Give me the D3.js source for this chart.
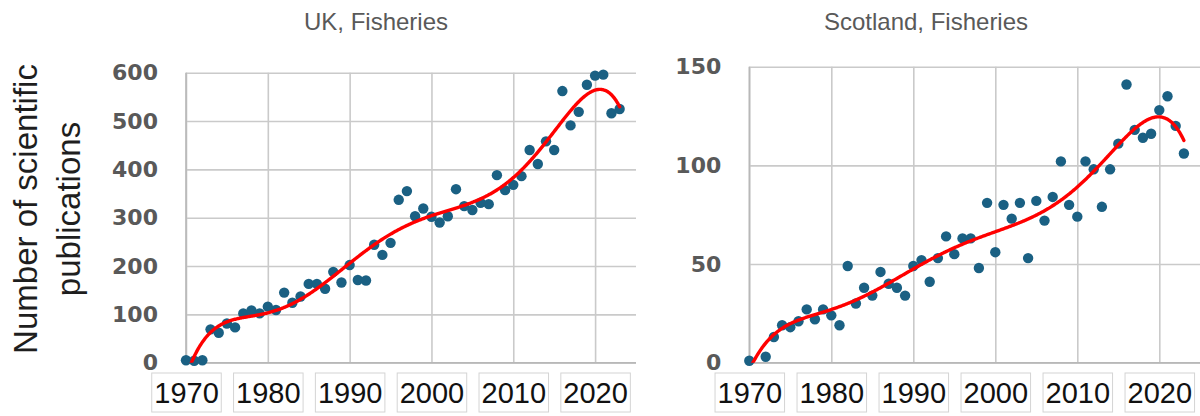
<!DOCTYPE html>
<html>
<head>
<meta charset="utf-8">
<script src="https://cdn.jsdelivr.net/npm/d3@7"></script>
<style>
  html, body { margin: 0; padding: 0; background: #ffffff; }
  svg { display: block; }
</style>
</head>
<body>
<svg id="chart" width="1200" height="416"></svg>
<script>
// Publication counts per year, 1970–2023
const years = d3.range(1970, 2024);

const ukPublications = [
  5, 4, 5, 69, 62, 81, 73, 102, 108, 102,
  116, 109, 145, 124, 137, 163, 163, 153, 188, 166,
  202, 171, 170, 244, 223, 248, 337, 355, 303, 319,
  302, 290, 303, 359, 324, 316, 331, 328, 388, 357,
  368, 386, 440, 411, 458, 440, 562, 491, 519, 575,
  594, 596, 516, 525
];

const scotlandPublications = [
  1, null, 3, 13, 19, 18, 21, 27, 22, 27,
  24, 19, 49, 30, 38, 34, 46, 40, 38, 34,
  49, 52, 41, 53, 64, 55, 63, 63, 48, 81,
  56, 80, 73, 81, 53, 82, 72, 84, 102, 80,
  74, 102, 98, 79, 98, 111, 141, 118, 114, 116,
  128, 135, 120, 106
];

const yearTicks = [1970, 1980, 1990, 2000, 2010, 2020];
const ukValueTicks = [0, 100, 200, 300, 400, 500, 600];
const scotlandValueTicks = [0, 50, 100, 150];
const panelTitles = ["UK, Fisheries", "Scotland, Fisheries"];
const yAxisTitle = ["Number of scientific", "publications"];

const TREND_DEGREE = 6;

// Least-squares polynomial fit (x is centred and scaled for numerical stability)
function polyFit(xs, ys, degree) {
  const cx = d3.mean(xs);
  const sx = (d3.max(xs) - d3.min(xs)) / 2;
  const n = degree + 1;
  const M = Array.from({ length: n }, () => new Array(n).fill(0));
  const b = new Array(n).fill(0);
  xs.forEach((xv, i) => {
    const t = (xv - cx) / sx;
    const pw = [];
    for (let k = 0; k < n; k++) pw.push(Math.pow(t, k));
    for (let r = 0; r < n; r++) {
      b[r] += pw[r] * ys[i];
      for (let c = 0; c < n; c++) M[r][c] += pw[r] * pw[c];
    }
  });
  // Gaussian elimination with partial pivoting
  for (let col = 0; col < n; col++) {
    let piv = col;
    for (let r = col + 1; r < n; r++) if (Math.abs(M[r][col]) > Math.abs(M[piv][col])) piv = r;
    [M[col], M[piv]] = [M[piv], M[col]];
    [b[col], b[piv]] = [b[piv], b[col]];
    for (let r = col + 1; r < n; r++) {
      const f = M[r][col] / M[col][col];
      for (let c = col; c < n; c++) M[r][c] -= f * M[col][c];
      b[r] -= f * b[col];
    }
  }
  const coef = new Array(n).fill(0);
  for (let r = n - 1; r >= 0; r--) {
    let s = b[r];
    for (let c = r + 1; c < n; c++) s -= M[r][c] * coef[c];
    coef[r] = s / M[r][r];
  }
  return xv => {
    const t = (xv - cx) / sx;
    let v = 0;
    for (let k = n - 1; k >= 0; k--) v = v * t + coef[k];
    return v;
  };
}

const svg = d3.select("#chart");
const defs = svg.append("defs");

function drawPanel(opts) {
  const { id, left, right, top, bottom, yMax, values, valueTicks, title, titleX } = opts;
  const x = d3.scaleLinear().domain([1970, 2025]).range([left, right]);
  const y = d3.scaleLinear().domain([0, yMax]).range([bottom, top]);
  const g = svg.append("g");

  // Horizontal gridlines + value labels
  const yAxis = g.append("g")
    .attr("transform", `translate(${left},0)`)
    .call(d3.axisLeft(y).tickValues(valueTicks).tickSize(-(right - left)).tickPadding(28).tickFormat(d3.format("d")))
    .attr("font-family", "'DejaVu Sans', sans-serif")
    .attr("font-size", 22)
    .attr("font-weight", "bold");
  yAxis.select(".domain").remove();
  yAxis.selectAll(".tick line").attr("stroke", "#cacaca").attr("stroke-width", 1.6);
  yAxis.selectAll(".tick text").attr("fill", "#595959");

  // Vertical gridlines + boxed year labels
  const xAxis = g.append("g")
    .attr("transform", `translate(0,${bottom})`)
    .call(d3.axisBottom(x).tickValues(yearTicks).tickSize(-(bottom - top)).tickFormat(d3.format("d")))
    .attr("font-family", "'Liberation Sans', Arial, sans-serif")
    .attr("font-size", 29);
  xAxis.select(".domain").remove();
  xAxis.selectAll(".tick line").attr("stroke", "#cacaca").attr("stroke-width", 1.6);
  xAxis.selectAll(".tick text")
    .attr("fill", "#111111")
    .attr("y", 403 - bottom)
    .attr("dy", 0);
  xAxis.selectAll(".tick").each(function () {
    const tick = d3.select(this);
    const w = tick.select("text").node().getComputedTextLength();
    tick.insert("rect", "text")
      .attr("x", -w / 2 - 2.5)
      .attr("y", 373 - bottom)
      .attr("width", w + 5)
      .attr("height", 39)
      .attr("fill", "#ffffff")
      .attr("stroke", "#d4d4d4")
      .attr("stroke-width", 1);
  });

  // Axis lines
  g.append("line").attr("x1", left).attr("x2", left).attr("y1", top).attr("y2", bottom)
    .attr("stroke", "#b8b8b8").attr("stroke-width", 1.6);
  g.append("line").attr("x1", left).attr("x2", right).attr("y1", bottom).attr("y2", bottom)
    .attr("stroke", "#b8b8b8").attr("stroke-width", 1.6);

  // Data points
  const pts = years.map((yr, i) => ({ yr, v: values[i] })).filter(d => d.v != null);
  g.append("g").selectAll("circle").data(pts).join("circle")
    .attr("cx", d => x(d.yr))
    .attr("cy", d => y(d.v))
    .attr("r", 5.2)
    .attr("fill", "#1a6083");

  // Polynomial trendline, clipped to the plot area
  defs.append("clipPath").attr("id", id)
    .append("rect").attr("x", left).attr("y", top - 20).attr("width", right - left).attr("height", bottom - top + 20);
  const fit = polyFit(pts.map(d => d.yr), pts.map(d => d.v), TREND_DEGREE);
  const x0 = d3.min(pts, d => d.yr), x1 = d3.max(pts, d => d.yr);
  const samples = d3.range(x0, x1 + 0.001, 0.1).map(t => [t, fit(t)]);
  g.append("path")
    .attr("clip-path", `url(#${id})`)
    .attr("d", d3.line().x(d => x(d[0])).y(d => y(d[1]))(samples))
    .attr("fill", "none")
    .attr("stroke", "#ff0000")
    .attr("stroke-width", 3.4)
    .attr("stroke-linecap", "round")
    .attr("stroke-linejoin", "round");

  // Panel title
  g.append("text")
    .attr("x", titleX).attr("y", 30)
    .attr("text-anchor", "middle")
    .attr("font-family", "'Liberation Sans', Arial, sans-serif")
    .attr("font-size", 24)
    .attr("fill", "#595959")
    .text(title);
}

drawPanel({
  id: "clip-uk", left: 186, right: 636, top: 72.7, bottom: 362.7, yMax: 600,
  values: ukPublications, valueTicks: ukValueTicks, title: panelTitles[0], titleX: 376
});

drawPanel({
  id: "clip-scot", left: 749.3, right: 1200.3, top: 66.7, bottom: 362.7, yMax: 150,
  values: scotlandPublications, valueTicks: scotlandValueTicks, title: panelTitles[1], titleX: 926
});

// Shared y-axis title
const yTitle = svg.append("text")
  .attr("transform", "rotate(-90)")
  .attr("font-family", "'Liberation Sans', Arial, sans-serif")
  .attr("font-size", 33)
  .attr("fill", "#1e1e1e")
  .attr("text-anchor", "middle");
yTitle.selectAll("tspan").data(yAxisTitle).join("tspan")
  .attr("x", -209)
  .attr("y", (d, i) => i === 0 ? 37 : 80)
  .text(d => d);
</script>
</body>
</html>
